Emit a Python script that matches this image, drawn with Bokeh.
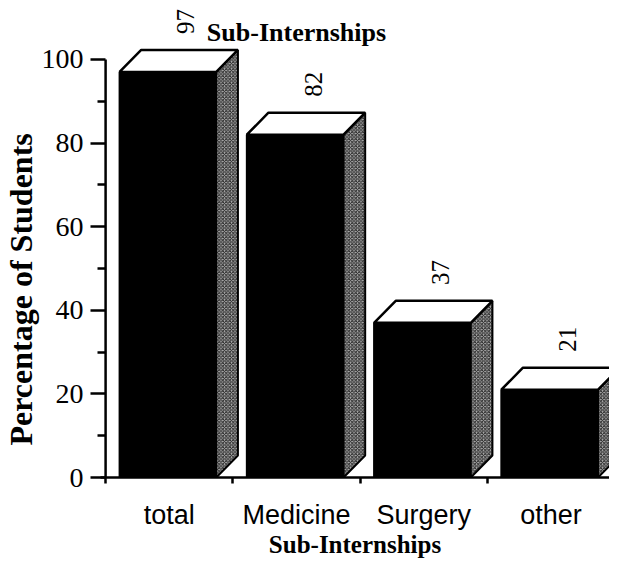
import math
from bokeh.plotting import figure
from bokeh.models import FixedTicker, Label, Range1d, Title
from bokeh.embed import file_html
from bokeh.resources import INLINE
from bokeh.core.properties import value

# ---- data ----
categories = ["total", "Medicine", "Surgery", "other"]
percentages = [97, 82, 37, 21]
y_ticks = [0, 20, 40, 60, 80, 100]
y_minor_ticks = [10, 30, 50, 70, 90]
title_text = "Sub-Internships"
x_title = "Sub-Internships"
y_title = "Percentage of Students"

# ---- geometry (style) ----
FRONT_L = 0.11
FRONT_R = 0.87
DX = 0.17      # depth offset in x (category units)
DY = 5.26      # depth offset in y (percent units)
LABEL_GAP = 3.8
LABEL_SHIFT = -0.03

idx = list(range(len(categories)))

p = figure(width=609, height=559,
           x_range=Range1d(-0.04, 3.96), y_range=Range1d(0, 114.1),
           output_backend="svg", toolbar_location=None,
           min_border_left=96, min_border_right=0,
           min_border_top=0, min_border_bottom=82)
p.outline_line_color = None
p.xgrid.visible = False
p.ygrid.visible = False
p.background_fill_color = "white"
p.border_fill_color = "white"

# front faces
p.quad(left=[i + FRONT_L for i in idx], right=[i + FRONT_R for i in idx],
       bottom=[0] * len(idx), top=percentages,
       fill_color="black", line_color="black", line_width=2)

# side faces
side_xs = [[i + FRONT_R, i + FRONT_R + DX, i + FRONT_R + DX, i + FRONT_R] for i in idx]
side_ys = [[0, DY, v + DY, v] for v in percentages]
p.patches(side_xs, side_ys, fill_color="#b0b0b0", line_color="black", line_width=2,
          hatch_pattern="x", hatch_color="black", hatch_scale=3.5, hatch_weight=1.0,
          hatch_alpha=0.8)

# top faces
top_xs = [[i + FRONT_L, i + FRONT_L + DX, i + FRONT_R + DX, i + FRONT_R] for i in idx]
top_ys = [[v, v + DY, v + DY, v] for v in percentages]
p.patches(top_xs, top_ys, fill_color="white", line_color="black", line_width=2.5)

# value labels (rotated)
p.text(x=[i + FRONT_L + DX + (FRONT_R - FRONT_L) / 2 + LABEL_SHIFT for i in idx],
       y=[v + DY + LABEL_GAP for v in percentages],
       text=[str(v) for v in percentages],
       angle=math.pi / 2, text_align="left", text_baseline="middle",
       text_font=value("Liberation Serif"), text_font_size="25px", text_color="black")

# y axis line (only 0..100)
p.segment(x0=[0], y0=[y_ticks[0]], x1=[0], y1=[y_ticks[-1]], line_color="black", line_width=2.5)

# y axis
yax = p.yaxis[0]
yax.ticker = FixedTicker(ticks=y_ticks, minor_ticks=y_minor_ticks)
yax.axis_line_color = None
yax.major_tick_out = 10
yax.major_tick_in = 5
yax.minor_tick_out = 3
yax.minor_tick_in = 5
yax.major_tick_line_width = 2.5
yax.minor_tick_line_width = 2.5
yax.major_tick_line_color = "black"
yax.minor_tick_line_color = "black"
yax.major_label_standoff = 7
yax.major_label_text_font = "Liberation Serif"
yax.major_label_text_font_size = "28px"
yax.major_label_text_color = "black"

# x axis
xax = p.xaxis[0]
centers = [i + 0.5 for i in idx]
xax.ticker = FixedTicker(ticks=centers, minor_ticks=idx)
xax.major_label_overrides = {c: name for c, name in zip(centers, categories)}
xax.axis_line_width = 2.5
xax.axis_line_color = "black"
xax.major_tick_out = 0
xax.major_tick_in = 0
xax.minor_tick_out = 6
xax.minor_tick_in = 0
xax.minor_tick_line_width = 2.5
xax.minor_tick_line_color = "black"
xax.major_label_standoff = 16
xax.major_label_text_font = "Liberation Sans"
xax.major_label_text_font_size = "27px"
xax.major_label_text_color = "black"

# chart title (inside the frame, top)
p.add_layout(Label(x=1.50, y=106.4, text=title_text, text_align="center",
                   text_baseline="alphabetic", text_font="Liberation Serif",
                   text_font_style="bold", text_font_size="26px", text_color="black"))

# axis titles
p.add_layout(Title(text=y_title, align="left", offset=32, standoff=0,
                   text_font="Liberation Serif", text_font_style="bold",
                   text_font_size="32px", text_color="black"), "left")
p.add_layout(Title(text=x_title, align="center", offset=20, standoff=-7,
                   text_font="Liberation Serif", text_font_style="bold",
                   text_font_size="25px", text_color="black"), "below")

open("out.html", "w").write(file_html(p, INLINE))
